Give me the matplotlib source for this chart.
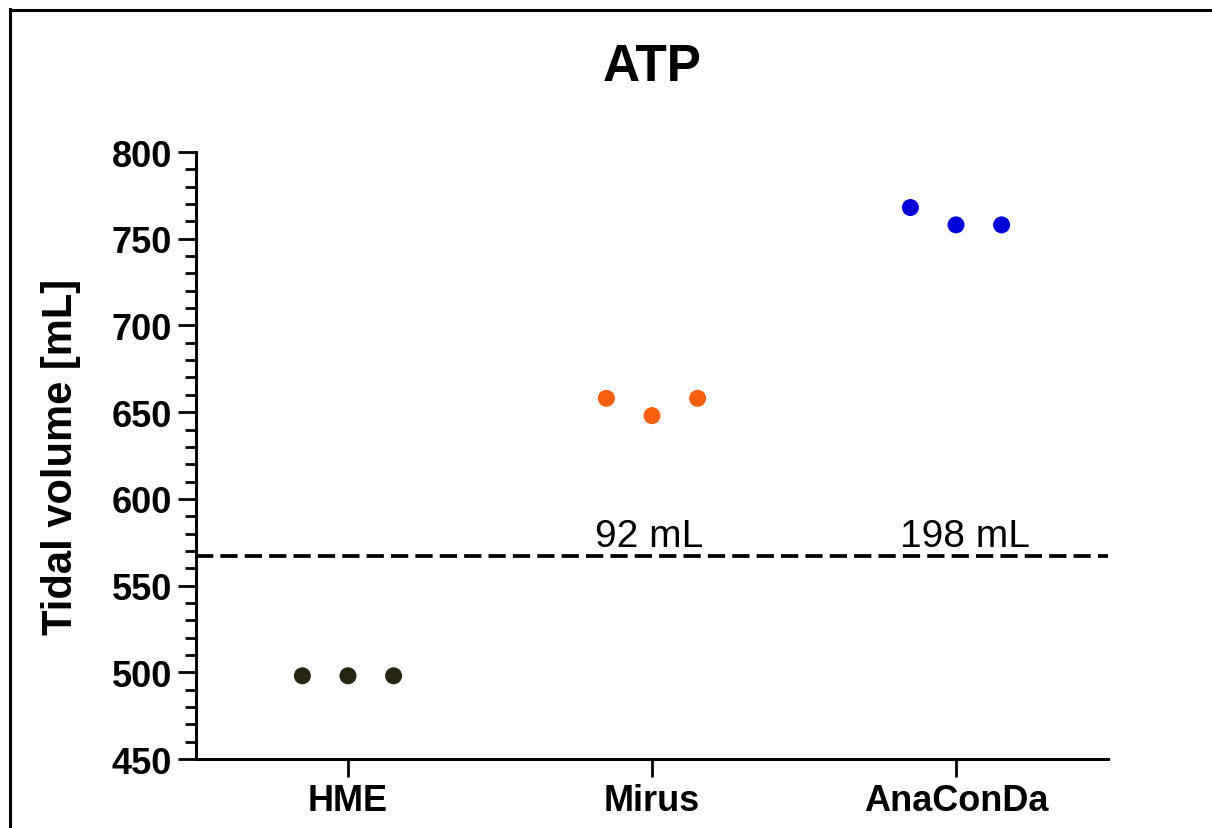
#!/usr/bin/env python
import numpy as np
import matplotlib
matplotlib.use('Agg')
import matplotlib.pyplot as plt
from matplotlib.ticker import MultipleLocator
from matplotlib.lines import Line2D

# ---------------- data ----------------
groups = ['HME', 'Mirus', 'AnaConDa']
hme_vals = [498, 498, 498]
mirus_vals = [658, 648, 658]
anaconda_vals = [768, 758, 758]
jitter = [-0.15, 0.0, 0.15]
reference_level = 567
diff_labels = ['92 mL', '198 mL']
diff_label_x = [0.99, 2.03]
diff_label_y = 573

colors = ['#27240f', '#fa5f0e', '#0000d8']

# ---------------- style ----------------
plt.rcParams['font.family'] = ['Liberation Sans', 'DejaVu Sans']
spine_width = 2.2
tick_width = 2.0
tick_length = 13
minor_tick_length = 8
tick_labelsize = 26
label_fontsize = 30
title_fontsize = 37
marker_area = 150

fig = plt.figure(figsize=(12.12, 8.29), dpi=100)
ax = fig.add_axes([0.1617, 0.0832, 0.7525, 0.7322])

for i, vals in enumerate([hme_vals, mirus_vals, anaconda_vals]):
    xs = [i + j for j in jitter]
    ax.scatter(xs, vals, s=marker_area, color=colors[i], edgecolors='none', zorder=3)

ax.axhline(reference_level, color='black', linewidth=2.7,
           linestyle=(0, (4.6, 1.9)), zorder=2)

for x, txt in zip(diff_label_x, diff_labels):
    ax.text(x, diff_label_y, txt, ha='center', va='baseline', fontsize=28)

ax.set_xlim(-0.5, 2.5)
ax.set_ylim(450, 800)
ax.set_xticks(range(len(groups)))
ax.set_xticklabels(groups, fontweight='bold')
ax.yaxis.set_major_locator(MultipleLocator(50))
ax.yaxis.set_minor_locator(MultipleLocator(10))
for lab in ax.get_yticklabels():
    lab.set_fontweight('bold')

ax.spines['top'].set_visible(False)
ax.spines['right'].set_visible(False)
ax.spines['left'].set_linewidth(spine_width)
ax.spines['bottom'].set_linewidth(spine_width)

ax.tick_params(axis='both', which='major', direction='out', width=tick_width,
               length=tick_length, labelsize=tick_labelsize, pad=4)
ax.tick_params(axis='y', which='minor', direction='out', width=tick_width,
               length=minor_tick_length)

ax.set_ylabel('Tidal volume [mL]', fontsize=label_fontsize, fontweight='bold', labelpad=22)
ax.set_title('ATP', fontsize=title_fontsize, fontweight='bold', pad=52)

# frame lines (left and top) around the figure
fig.add_artist(Line2D([10 / 1212, 10 / 1212], [0, 1 - 10 / 829], transform=fig.transFigure,
                      color='black', linewidth=2.2))
fig.add_artist(Line2D([10 / 1212, 1], [1 - 11 / 829, 1 - 11 / 829], transform=fig.transFigure,
                      color='black', linewidth=2.2))

fig.savefig('out.png', dpi=100)
